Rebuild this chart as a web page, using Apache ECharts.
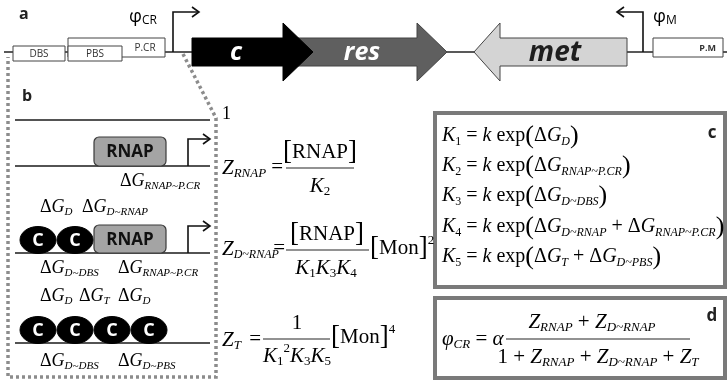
<!DOCTYPE html>
<html>
<head>
<meta charset="utf-8">
<script src="https://cdn.jsdelivr.net/npm/echarts@6/dist/echarts.min.js"></script>
<style>
  html, body { margin: 0; padding: 0; background: #fff; }
  #main { width: 727px; height: 382px; }
</style>
</head>
<body>
<div id="main"></div>
<script>
// ---- content ----------------------------------------------------------
const panelLetters = ['a', 'b', 'c', 'd'];
const genes = ['c', 'res', 'met'];
const siteLabels = ['DBS', 'PBS', 'P.CR', 'P.M'];
const promoterNames = ['CR', 'M'];
const polymerase = 'RNAP';
const dimerLetter = 'C';

// free-energy labels for the binding states (subscripts)
const stateRow2Below = ['RNAP~P.CR'];
const stateRow3Above = ['D', 'D~RNAP'];
const stateRow3Below = ['D~DBS', 'RNAP~P.CR'];
const stateRow4Above = ['D', 'T', 'D'];
const stateRow4Below = ['D~DBS', 'D~PBS'];

// dissociation constants K1..K5 (index, exponent terms)
const kIndex = ['1', '2', '3', '4', '5'];
const kTerms = [
  ['D'],
  ['RNAP~P.CR'],
  ['D~DBS'],
  ['D~RNAP', 'RNAP~P.CR'],
  ['T', 'D~PBS']
];

// ---- styling helpers --------------------------------------------------
const SERIF = '"Liberation Serif", "Times New Roman", serif';
const SANS = '"Open Sans", "Liberation Sans", Arial, sans-serif';
const EQ = '#262626';
const DG = '#555555';

function richStyles(size, color) {
  const small = Math.round(size * 0.6);
  const smaller = Math.round(size * 0.55);
  const drop = Math.round(size * 0.55);
  return {
    r: { fontFamily: SERIF, fontSize: size, color: color },
    i: { fontFamily: SERIF, fontSize: size, fontStyle: 'italic', color: color },
    s: { fontFamily: SERIF, fontSize: small, fontStyle: 'italic', color: color, padding: [drop, 0, 0, 0] },
    ss: { fontFamily: SERIF, fontSize: smaller, fontStyle: 'italic', color: color, padding: [drop, 0, 0, 0] },
    sr: { fontFamily: SERIF, fontSize: small, color: color, padding: [drop, 0, 0, 0] },
    sp: { fontFamily: SERIF, fontSize: small, color: color, padding: [0, 0, Math.round(size * 0.7), 0] },
    p: { fontFamily: SERIF, fontSize: Math.round(size * 1.3), color: color }
  };
}

function mt(x, y, parts, size, color, align) {
  return {
    type: 'text', x: x, y: y, z: 10,
    style: {
      text: parts.map(function (p) { return '{' + p[0] + '|' + p[1] + '}'; }).join(''),
      rich: richStyles(size, color),
      align: align || 'left', textAlign: align || 'left',
      verticalAlign: 'middle', textVerticalAlign: 'middle'
    }
  };
}

function txt(x, y, s, font, color, align, extra) {
  return Object.assign({
    type: 'text', x: x, y: y, z: 10,
    style: {
      text: s, font: font, fill: color,
      align: align || 'left', textAlign: align || 'left',
      verticalAlign: 'middle', textVerticalAlign: 'middle'
    }
  }, extra || {});
}

function pline(pts, color, width, dash) {
  return {
    type: 'polyline', z: 5,
    shape: { points: pts },
    style: { stroke: color, lineWidth: width, fill: null, lineDash: dash || null }
  };
}

function box(x, y, w, h, fill, stroke, lw, r) {
  return {
    type: 'rect', z: 6,
    shape: { x: x, y: y, width: w, height: h, r: r || 0 },
    style: { fill: fill, stroke: stroke, lineWidth: lw }
  };
}

// bent promoter arrow: up from the DNA, then sideways with an open head
function promoterArrow(x, yBase, yTop, xEnd, color) {
  const d = xEnd > x ? 1 : -1;
  return [
    pline([[x, yBase], [x, yTop], [xEnd, yTop]], color, 1.6),
    pline([[xEnd - d * 7, yTop - 5], [xEnd, yTop], [xEnd - d * 7, yTop + 5]], color, 1.6)
  ];
}

function dG(x, y, sub) {
  return {
    type: 'text', x: x, y: y, z: 10,
    style: {
      text: '{r|Δ}{i|G}{s|' + sub + '}',
      rich: {
        r: { fontFamily: SERIF, fontSize: 18, color: DG },
        i: { fontFamily: SERIF, fontSize: 18, fontStyle: 'italic', color: DG },
        s: { fontFamily: SERIF, fontSize: 11, fontStyle: 'italic', color: DG, padding: [10, 0, 0, 0] }
      },
      align: 'left', verticalAlign: 'middle'
    }
  };
}

const E = [];

// ---- panel a: operon ---------------------------------------------------
const dnaY = 52;
E.push(txt(19, 14, panelLetters[0], 'bold 16px ' + SANS, '#222'));
E.push(pline([[4, dnaY], [727, dnaY]], '#222', 1.6));

// binding sites and promoters
E.push(box(68, 38, 97, 19, '#fff', '#444', 1));
E.push(txt(145, 48, siteLabels[2], '10px ' + SANS, '#333', 'center'));
E.push(box(13, 46, 52, 15, '#fff', '#444', 1));
E.push(txt(39, 54, siteLabels[0], '10px ' + SANS, '#333', 'center'));
E.push(box(68, 46, 54, 15, '#fff', '#444', 1));
E.push(txt(95, 54, siteLabels[1], '10px ' + SANS, '#333', 'center'));
E.push(box(653, 38, 70, 19, '#fff', '#444', 1));
E.push(txt(716, 48, siteLabels[3], 'bold 9px ' + SANS, '#333', 'right'));

E.push.apply(E, promoterArrow(173, dnaY, 12, 199, '#111'));
E.push.apply(E, promoterArrow(643, dnaY, 12, 617, '#111'));

const phiRich = {
  f: { fontFamily: SANS, fontSize: 18, color: '#222' },
  u: { fontFamily: SANS, fontSize: 12, color: '#222', padding: [7, 0, 0, 0] }
};
E.push({ type: 'text', x: 129, y: 17, z: 10, style: { text: '{f|φ}{u|' + promoterNames[0] + '}', rich: phiRich, align: 'left', verticalAlign: 'middle' } });
E.push({ type: 'text', x: 653, y: 17, z: 10, style: { text: '{f|φ}{u|' + promoterNames[1] + '}', rich: phiRich, align: 'left', verticalAlign: 'middle' } });

// gene arrows: [tail x, head base x, tip x]
const geneGeom = [[192, 283, 313], [283, 417, 447], [627, 500, 474]];
const geneFill = ['#000000', '#5f5f5f', '#d4d4d4'];
const geneText = ['#ffffff', '#ffffff', '#1e1e1e'];
const geneTextX = [236, 362, 555];
const geneFont = [25, 25, 28];
function geneArrow(g, i) {
  const bh = 14, hh = 29;
  const pts = [[g[0], dnaY - bh], [g[1], dnaY - bh], [g[1], dnaY - hh], [g[2], dnaY],
               [g[1], dnaY + hh], [g[1], dnaY + bh], [g[0], dnaY + bh]];
  return {
    type: 'polygon', z: i === 0 ? 8 : 7,
    shape: { points: pts },
    style: { fill: geneFill[i], stroke: i === 0 ? '#000' : '#444', lineWidth: 1 }
  };
}
[1, 0, 2].forEach(function (i) {
  E.push(geneArrow(geneGeom[i], i));
  E.push(txt(geneTextX[i], dnaY + 1, genes[i], 'italic bold ' + geneFont[i] + 'px ' + SANS, geneText[i], 'center', { z: 12 }));
});

// ---- panel b: binding states ------------------------------------------
const dotted = [3, 3];
E.push(pline([[183, 54], [216, 118], [216, 377], [8, 377], [8, 57]], '#8c8c8c', 3.5, dotted));
E.push(txt(22, 96, panelLetters[1], 'bold 16px ' + SANS, '#222'));

const rowY = [120, 166, 253, 343];
rowY.forEach(function (y) { E.push(pline([[15, y], [210, y]], '#1a1a1a', 1.6)); });

function rnapBox(y0, y1) {
  E.push(box(94, y0, 72, y1 - y0, '#a4a4a4', '#3a3a3a', 1.2, 5));
  E.push(txt(130, (y0 + y1) / 2 + 1, polymerase, 'bold 17px ' + SANS, '#111', 'center'));
}
function dimer(cx, cy) {
  E.push({ type: 'ellipse', z: 7, shape: { cx: cx, cy: cy, rx: 18, ry: 13.5 }, style: { fill: '#000', stroke: '#000', lineWidth: 1 } });
  E.push(txt(cx, cy + 1, dimerLetter, 'bold 18px ' + SANS, '#fff', 'center', { z: 12 }));
}

// state 2: polymerase only
rnapBox(137, 166);
E.push.apply(E, promoterArrow(188, 166, 139, 210, '#111'));
E.push(dG(120, 181, stateRow2Below[0]));

// state 3: two repressor monomers + polymerase
E.push(dG(40, 207, stateRow3Above[0]));
E.push(dG(82, 207, stateRow3Above[1]));
dimer(38, 240); dimer(75, 240);
rnapBox(225, 253);
E.push.apply(E, promoterArrow(188, 253, 226, 210, '#111'));
E.push(dG(40, 268, stateRow3Below[0]));
E.push(dG(118, 268, stateRow3Below[1]));

// state 4: tetramer over DBS and PBS
E.push(dG(40, 296, stateRow4Above[0]));
E.push(dG(79, 296, stateRow4Above[1]));
E.push(dG(118, 296, stateRow4Above[2]));
dimer(38, 330); dimer(75, 330); dimer(112, 330); dimer(149, 330);
E.push(dG(40, 361, stateRow4Below[0]));
E.push(dG(118, 361, stateRow4Below[1]));

// ---- statistical weights ---------------------------------------------
const ZS = 21;
E.push(mt(222, 114, [['r', '1']], 18, EQ));

function bar(x0, x1, y) { E.push(pline([[x0, y], [x1, y]], EQ, 1.2)); }

// Z_RNAP
E.push(mt(222, 168, [['i', 'Z'], ['s', 'RNAP']], ZS, EQ));
E.push(mt(283, 167, [['r', '=']], ZS, EQ, 'right'));
E.push(mt(320, 152, [['p', '['], ['r', polymerase], ['p', ']']], ZS, EQ, 'center'));
bar(286, 354, 168);
E.push(mt(320, 186, [['i', 'K'], ['sr', kIndex[1]]], ZS, EQ, 'center'));

// Z_D~RNAP
E.push(mt(222, 249, [['i', 'Z'], ['ss', 'D~RNAP']], ZS, EQ));
E.push(mt(285, 248, [['r', '=']], ZS, EQ, 'right'));
E.push(mt(327, 234, [['p', '['], ['r', polymerase], ['p', ']']], ZS, EQ, 'center'));
bar(286, 369, 250);
E.push(mt(326, 268, [['i', 'K'], ['sr', kIndex[0]], ['i', 'K'], ['sr', kIndex[2]], ['i', 'K'], ['sr', kIndex[3]]], ZS, EQ, 'center'));
E.push(mt(370, 248, [['p', '['], ['r', 'Mon'], ['p', ']'], ['sp', '2']], ZS, EQ));

// Z_T
E.push(mt(222, 340, [['i', 'Z'], ['s', 'T']], ZS, EQ));
E.push(mt(261, 339, [['r', '=']], ZS, EQ, 'right'));
E.push(mt(297, 323, [['r', '1']], ZS, EQ, 'center'));
bar(263, 330, 339);
E.push(mt(297, 356, [['i', 'K'], ['sr', kIndex[0]], ['sp', '2'], ['i', 'K'], ['sr', kIndex[2]], ['i', 'K'], ['sr', kIndex[4]]], ZS, EQ, 'center'));
E.push(mt(331, 337, [['p', '['], ['r', 'Mon'], ['p', ']'], ['sp', '4']], ZS, EQ));

// ---- panel c: constants -----------------------------------------------
E.push(box(435, 113, 290, 174, null, '#7a7a7a', 4));
E.push(txt(712, 133, panelLetters[2], 'bold 17px ' + SANS, '#222', 'center'));
const kRowY = [136, 166, 196, 227, 257];
kTerms.forEach(function (terms, j) {
  const parts = [['i', 'K'], ['sr', kIndex[j]], ['r', ' = '], ['i', 'k'], ['r', ' exp'], ['p', '(']];
  terms.forEach(function (t, m) {
    if (m > 0) parts.push(['r', ' + ']);
    parts.push(['r', 'Δ'], ['i', 'G'], ['s', t]);
  });
  parts.push(['p', ')']);
  E.push(mt(442, kRowY[j], parts, 20, EQ));
});

// ---- panel d: promoter activity ---------------------------------------
E.push(box(435, 298, 290, 80, null, '#7a7a7a', 4));
E.push(txt(712, 316, panelLetters[3], 'bold 17px ' + SANS, '#222', 'center'));
E.push(mt(442, 339, [['i', 'φ'], ['s', 'CR'], ['r', ' = '], ['i', 'α']], ZS, EQ));
E.push(mt(592, 322, [['i', 'Z'], ['s', 'RNAP'], ['r', ' + '], ['i', 'Z'], ['s', 'D~RNAP']], ZS, EQ, 'center'));
bar(506, 690, 339);
E.push(mt(598, 357, [['r', '1 + '], ['i', 'Z'], ['s', 'RNAP'], ['r', ' + '], ['i', 'Z'], ['s', 'D~RNAP'], ['r', ' + '], ['i', 'Z'], ['s', 'T']], ZS, EQ, 'center'));

const chart = echarts.init(document.getElementById('main'), null, { renderer: 'canvas' });
chart.setOption({
  backgroundColor: '#ffffff',
  animation: false,
  graphic: { elements: E }
});
</script>
</body>
</html>
